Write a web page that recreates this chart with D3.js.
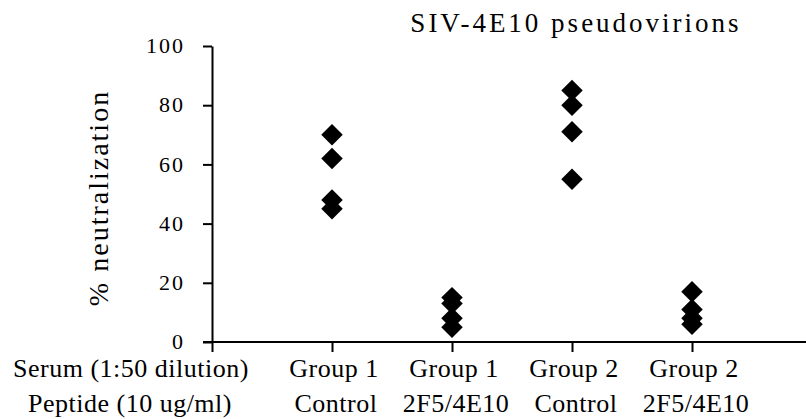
<html>
<head>
<title>SIV-4E10</title>
<style>
  body { margin: 0; background: #fff; }
  svg text { font-family: "Liberation Serif", "Times New Roman", serif; fill: #000; }
</style>
</head>
<body>
<script src="https://d3js.org/d3.v7.min.js"></script>
<script>
// data
var serum = ["Group 1", "Group 1", "Group 2", "Group 2"];
var peptide = ["Control", "2F5/4E10", "Control", "2F5/4E10"];
var g1Control = [70, 62, 48, 45];
var g1Peptide = [15, 13, 8, 5];
var g2Control = [85, 80, 71, 55];
var g2Peptide = [17, 11, 8, 6];
var yTicks = [0, 20, 40, 60, 80, 100];

var series = [g1Control, g1Peptide, g2Control, g2Peptide];

var width = 806, height = 419;
var svg = d3.select("body").append("svg")
    .attr("width", width)
    .attr("height", height);

var x = d3.scaleLinear().domain([0, 5]).range([212, 812]);
var y = d3.scaleLinear().domain([0, 100]).range([342, 46]);

// y axis
var yAxis = svg.append("g")
    .attr("transform", "translate(" + x(0) + ",0)")
    .call(d3.axisLeft(y).tickValues(yTicks).tickSize(9).tickSizeOuter(0).tickPadding(18));
yAxis.selectAll("text")
    .attr("font-family", null)
    .style("font-size", "22px")
    .style("letter-spacing", "2px")
    .attr("dy", "0.3em");

// x axis
var xAxis = svg.append("g")
    .attr("transform", "translate(0," + y(0) + ")")
    .call(d3.axisBottom(x).tickValues([0, 1, 2, 3, 4]).tickFormat("").tickSize(10).tickSizeOuter(0));
xAxis.select(".domain").attr("d", "M" + (x(0) - 9) + ",0H" + width);

svg.selectAll(".domain, .tick line").attr("stroke", "#000").attr("stroke-width", 2);

// markers
var diamond = d3.symbol().type(d3.symbolSquare).size(230);
series.forEach(function(vals, i) {
    svg.selectAll(".m" + i)
        .data(vals)
        .enter()
        .append("path")
        .attr("class", "m" + i)
        .attr("d", diamond)
        .attr("fill", "#000")
        .attr("transform", function(d) {
            return "translate(" + x(i + 1) + "," + y(d) + ") rotate(45)";
        });
});

// category labels
var labelStyle = function(sel) {
    sel.attr("text-anchor", "middle")
        .style("font-size", "26px")
        .style("letter-spacing", "0.5px");
};

svg.selectAll(".serum")
    .data(serum)
    .enter()
    .append("text")
    .attr("class", "serum")
    .attr("x", function(d, i) { return x(i + 1) + 2; })
    .attr("y", 377)
    .call(labelStyle)
    .text(function(d) { return d; });

svg.selectAll(".pep")
    .data(peptide)
    .enter()
    .append("text")
    .attr("class", "pep")
    .attr("x", function(d, i) { return x(i + 1) + 4; })
    .attr("y", 412)
    .call(labelStyle)
    .text(function(d) { return d; });

svg.append("text")
    .attr("x", 131).attr("y", 377)
    .call(labelStyle)
    .text("Serum (1:50 dilution)");

svg.append("text")
    .attr("x", 130).attr("y", 412)
    .call(labelStyle)
    .text("Peptide (10 ug/ml)");

// axis title
svg.append("text")
    .attr("transform", "translate(108,198) rotate(-90)")
    .attr("text-anchor", "middle")
    .style("font-size", "28px")
    .style("letter-spacing", "2px")
    .text("% neutralization");

// chart title
svg.append("text")
    .attr("x", 576).attr("y", 32)
    .attr("text-anchor", "middle")
    .style("font-size", "27px")
    .style("letter-spacing", "3px")
    .text("SIV-4E10 pseudovirions");
</script>
</body>
</html>
